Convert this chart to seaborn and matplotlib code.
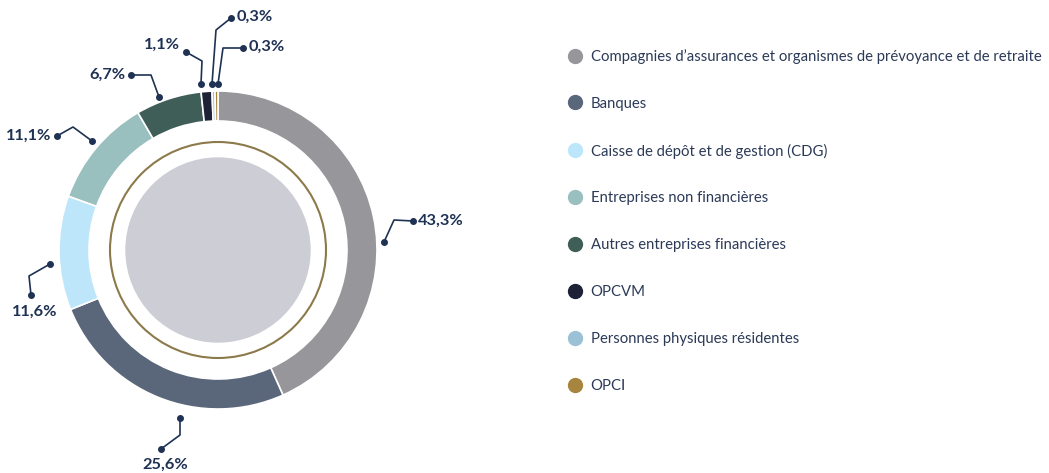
import matplotlib.pyplot as plt
import seaborn as sns
from matplotlib.lines import Line2D
from matplotlib.patches import Circle

# data
categories = [
    "Compagnies d\u2019assurances et organismes de prévoyance et de retraite",
    "Banques",
    "Caisse de dépôt et de gestion (CDG)",
    "Entreprises non financières",
    "Autres entreprises financières",
    "OPCVM",
    "Personnes physiques résidentes",
    "OPCI",
]
shares = [43.3, 25.6, 11.6, 11.1, 6.7, 1.1, 0.3, 0.3]
share_labels = ["43,3%", "25,6%", "11,6%", "11,1%", "6,7%", "1,1%", "0,3%", "0,3%"]
colors = ["#96969b", "#5a6679", "#bee6fb", "#99bfbe", "#405e58",
          "#1e2237", "#9bc1d6", "#a8853f"]

navy = "#1f3253"

sns.set_theme(style="white")
plt.rcParams['font.family'] = ['Lato', 'DejaVu Sans']

W, H = 1049, 473
fig = plt.figure(figsize=(W / 100, H / 100), dpi=100)
ax = fig.add_axes([0, 0, 1, 1])

cx, cy = 218, H - 250
ax.pie(shares, colors=colors, startangle=90, counterclock=False,
       radius=159, center=(cx, cy), frame=True,
       wedgeprops=dict(width=30, edgecolor='white', linewidth=1.2))
ax.add_patch(Circle((cx, cy), 92, color="#cdcdd5", zorder=1))
ax.add_patch(Circle((cx, cy), 108, fill=False, edgecolor="#8c7a4a",
                    linewidth=1.5, zorder=1))

# label leader lines, in image pixels: start dot, elbow, end dot, text, align
label_layout = [
    ((384, 242), (394, 220), (413, 221), (418, 221), 'left', 'center'),
    ((180, 418), (180, 435), (161, 449), (165, 465), 'center', 'center'),
    ((50, 264), (29, 276), (31, 295), (35, 312), 'center', 'center'),
    ((92, 141), (73, 127), (57, 136), (51, 136), 'right', 'center'),
    ((159, 97), (151, 75), (131, 75), (125, 75), 'right', 'center'),
    ((201, 84), (202, 61), (186, 52), (180, 45), 'right', 'center'),
    ((212, 84), (216, 30), (231, 18), (237, 17), 'left', 'center'),
    ((218, 84), (223, 48), (243, 48), (249, 47), 'left', 'center'),
]
for lab, (p0, p1, p2, pt, ha, va) in zip(share_labels, label_layout):
    xs = [p0[0], p1[0], p2[0]]
    ys = [H - p0[1], H - p1[1], H - p2[1]]
    ax.plot(xs, ys, color=navy, lw=1.2, zorder=3)
    ax.plot([xs[0], xs[2]], [ys[0], ys[2]], ls='', marker='o', ms=4,
            mfc=navy, mec=navy, zorder=4)
    ax.text(pt[0], H - pt[1], lab, ha=ha, va=va, fontsize=11.8,
            fontweight='bold', color=navy)

handles = [Line2D([], [], ls='', marker='o', ms=10, color=c) for c in colors]
leg = ax.legend(handles, categories, loc='upper left',
                bbox_to_anchor=(560 / W, 1 - 43 / H), frameon=False,
                fontsize=10.75, labelspacing=2.2, handletextpad=0.45,
                handlelength=1.2, borderaxespad=0)
for t in leg.get_texts():
    t.set_color("#2b3a57")

ax.set_xlim(0, W)
ax.set_ylim(0, H)
ax.set_aspect('equal')
ax.axis('off')

fig.savefig('out.png', dpi=100)
